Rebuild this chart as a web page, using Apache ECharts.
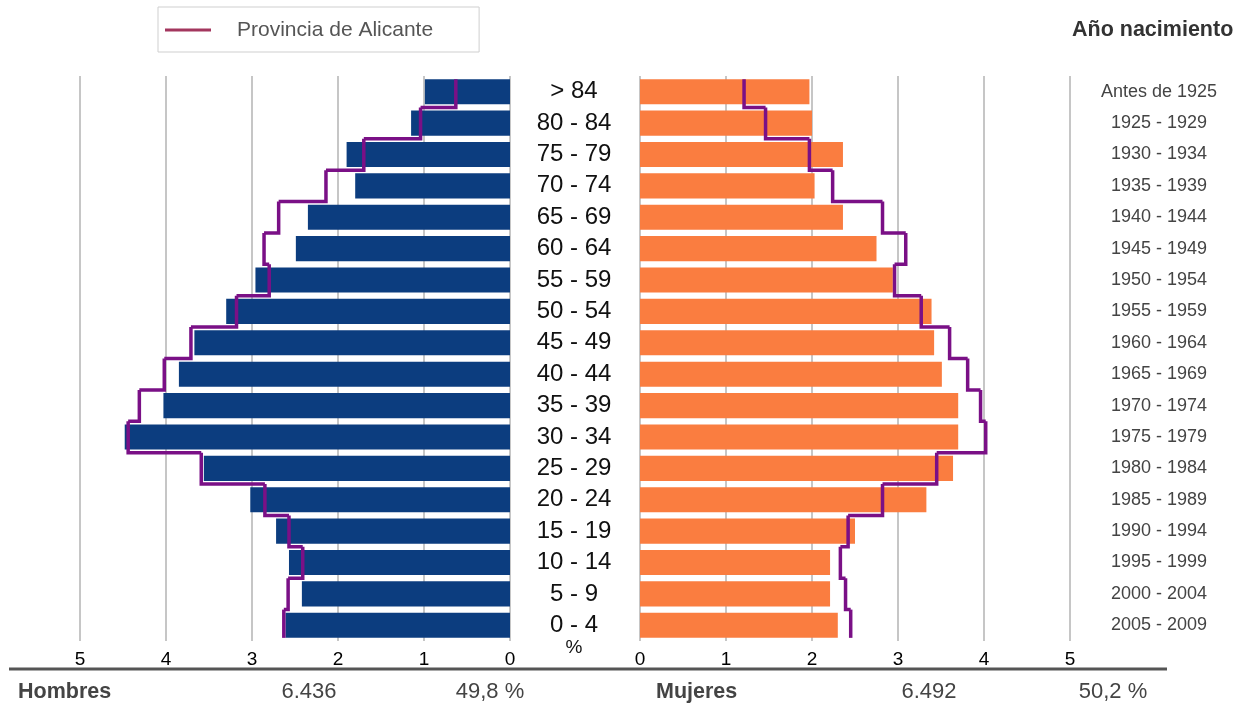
<!DOCTYPE html>
<html>
<head>
<meta charset="utf-8">
<script src="https://cdn.jsdelivr.net/npm/echarts@6/dist/echarts.min.js"></script>
<style>
html,body{margin:0;padding:0;background:#fff;}
#chart{width:1243px;height:706px;}
</style>
</head>
<body>
<div id="chart"></div>
<script>
// ---- data (top row first) ----
const ageGroups = ['> 84','80 - 84','75 - 79','70 - 74','65 - 69','60 - 64','55 - 59','50 - 54','45 - 49','40 - 44','35 - 39','30 - 34','25 - 29','20 - 24','15 - 19','10 - 14','5 - 9','0 - 4'];
const birthYears = ['Antes de 1925','1925 - 1929','1930 - 1934','1935 - 1939','1940 - 1944','1945 - 1949','1950 - 1954','1955 - 1959','1960 - 1964','1965 - 1969','1970 - 1974','1975 - 1979','1980 - 1984','1985 - 1989','1990 - 1994','1995 - 1999','2000 - 2004','2005 - 2009'];
const hombres = [0.99,1.15,1.90,1.80,2.35,2.49,2.96,3.30,3.67,3.85,4.03,4.48,3.56,3.02,2.72,2.57,2.42,2.61];
const mujeres = [1.97,2.00,2.36,2.03,2.36,2.75,2.94,3.39,3.42,3.51,3.70,3.70,3.64,3.33,2.50,2.21,2.21,2.30];
const provHombres = [0.63,1.04,1.70,2.14,2.69,2.86,2.80,3.18,3.71,4.02,4.31,4.44,3.59,2.85,2.57,2.41,2.58,2.63];
const provMujeres = [1.21,1.46,1.97,2.24,2.82,3.09,2.96,3.27,3.60,3.81,3.96,4.02,3.45,2.82,2.42,2.33,2.39,2.45];
const xTicks = [0,1,2,3,4,5];
const legendName = 'Provincia de Alicante';
const summary = {hombresN:'6.436', hombresP:'49,8 %', mujeresN:'6.492', mujeresP:'50,2 %'};

const FONT = 'Liberation Sans, Arial, sans-serif';
const LINE_COLOR = '#7a1086';

function stepRenderer(vals){
  return function(params, api){
    const i = params.dataIndex;
    const n = vals.length;
    const v = api.value(0), c = api.value(1);
    const p = api.coord([v, c]);
    const band = api.size([0, 1])[1];
    const top = i === 0 ? p[1] - band * 0.4 : p[1] - band / 2;
    const pts = [[p[0], top]];
    if (i < n - 1) {
      const bot = p[1] + band / 2;
      pts.push([p[0], bot]);
      const q = api.coord([vals[i + 1], c + 1]);
      pts.push([q[0], bot]);
    } else {
      pts.push([p[0], p[1] + band * 0.4]);
    }
    return {type:'polyline', shape:{points:pts}, style:{stroke:LINE_COLOR, lineWidth:3.5, fill:null, lineJoin:'miter'}};
  };
}

const chart = echarts.init(document.getElementById('chart'), null, {renderer:'canvas'});
const xAxisCommon = {
  type:'value', min:0, max:5, interval:1,
  axisLine:{show:false}, axisTick:{show:false},
  axisLabel:{fontSize:19, color:'#000', fontFamily:FONT, margin:9},
  splitLine:{show:true, lineStyle:{color:'#c6c6c6', width:2}}
};
chart.setOption({
  animation:false,
  backgroundColor:'#fff',
  textStyle:{fontFamily:FONT},
  legend:{
    left:158, top:7,
    data:[{name:legendName, itemStyle:{color:'#a3365e'}}],
    icon:'rect', itemWidth:46, itemHeight:3,
    borderColor:'#cfcfcf', borderWidth:1,
    padding:[11, 46, 10, 7],
    textStyle:{fontSize:21, color:'#555', fontFamily:FONT, padding:[0,0,0,21], lineHeight:24},
    selectedMode:false
  },
  grid:[
    {left:80, width:430, top:76, height:565},
    {left:640, width:430, top:76, height:565}
  ],
  xAxis:[
    Object.assign({gridIndex:0, inverse:true}, xAxisCommon, {data:xTicks}),
    Object.assign({gridIndex:1}, xAxisCommon)
  ],
  yAxis:[
    {type:'category', gridIndex:0, data:ageGroups, inverse:true, position:'right',
     axisLine:{show:false}, axisTick:{show:false},
     axisLabel:{align:'center', margin:64, fontSize:24, color:'#111', fontFamily:FONT}},
    {type:'category', gridIndex:1, data:birthYears, inverse:true, position:'right',
     axisLine:{show:false}, axisTick:{show:false},
     axisLabel:{align:'center', margin:89, fontSize:18, color:'#444', fontFamily:FONT}}
  ],
  series:[
    {type:'bar', name:'Hombres', xAxisIndex:0, yAxisIndex:0, data:hombres, barCategoryGap:'20%', itemStyle:{color:'#0c3d7f'}},
    {type:'bar', name:'Mujeres', xAxisIndex:1, yAxisIndex:1, data:mujeres, barCategoryGap:'20%', itemStyle:{color:'#fa7d40'}},
    {type:'custom', name:legendName, xAxisIndex:0, yAxisIndex:0, z:5,
     data:provHombres.map((v,i)=>[v,i]), renderItem:stepRenderer(provHombres), itemStyle:{color:LINE_COLOR}},
    {type:'custom', name:legendName, xAxisIndex:1, yAxisIndex:1, z:5,
     data:provMujeres.map((v,i)=>[v,i]), renderItem:stepRenderer(provMujeres), itemStyle:{color:LINE_COLOR}}
  ],
  graphic:[
    {type:'line', shape:{x1:9, y1:669, x2:1167, y2:669}, style:{stroke:'#555', lineWidth:3}},
    {type:'text', left:1072, top:19, style:{text:'Año nacimiento', font:'bold 21.5px '+FONT, fill:'#333'}},
    {type:'text', x:574, y:648, style:{text:'%', font:'19px '+FONT, fill:'#111', textAlign:'center', textVerticalAlign:'middle'}},
    {type:'text', x:18, y:692, style:{text:'Hombres', font:'bold 21.5px '+FONT, fill:'#444', textAlign:'left', textVerticalAlign:'middle'}},
    {type:'text', x:309, y:692, style:{text:summary.hombresN, font:'22px '+FONT, fill:'#444', textAlign:'center', textVerticalAlign:'middle'}},
    {type:'text', x:490, y:692, style:{text:summary.hombresP, font:'22px '+FONT, fill:'#444', textAlign:'center', textVerticalAlign:'middle'}},
    {type:'text', x:656, y:692, style:{text:'Mujeres', font:'bold 21.5px '+FONT, fill:'#444', textAlign:'left', textVerticalAlign:'middle'}},
    {type:'text', x:929, y:692, style:{text:summary.mujeresN, font:'22px '+FONT, fill:'#444', textAlign:'center', textVerticalAlign:'middle'}},
    {type:'text', x:1113, y:692, style:{text:summary.mujeresP, font:'22px '+FONT, fill:'#444', textAlign:'center', textVerticalAlign:'middle'}}
  ]
});
</script>
</body>
</html>
